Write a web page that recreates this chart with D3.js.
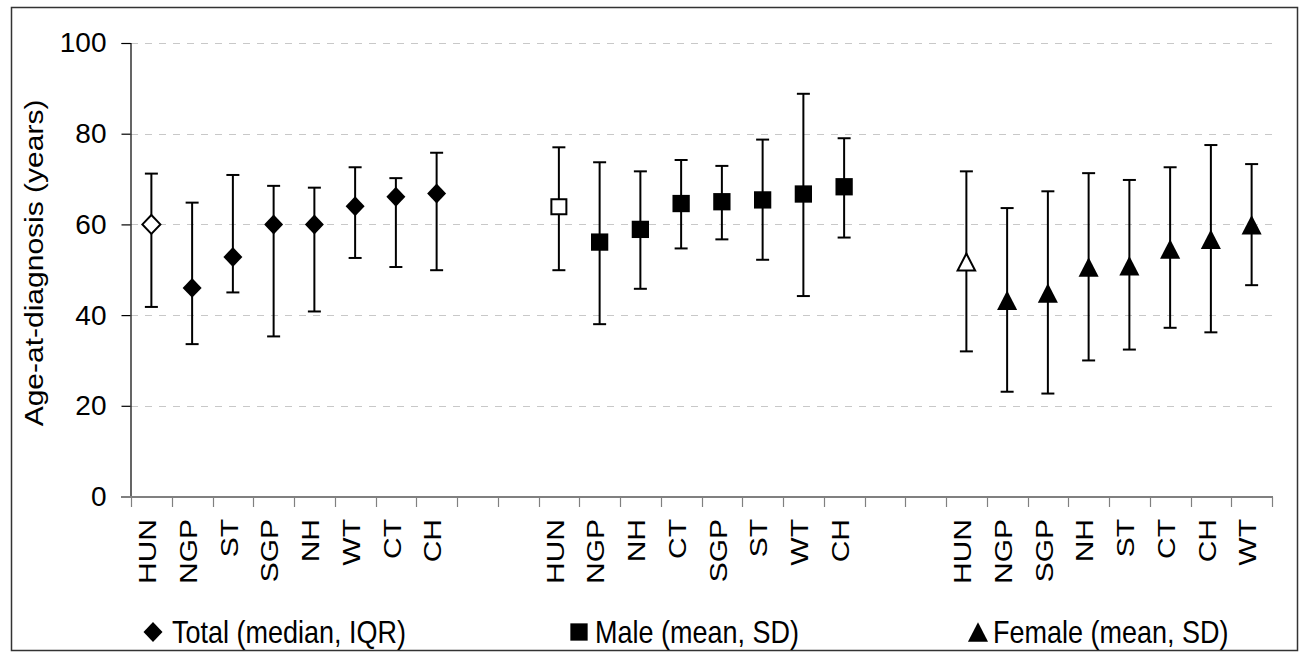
<!DOCTYPE html>
<html><head><meta charset="utf-8">
<script src="https://cdn.jsdelivr.net/npm/d3@7"></script>
<style>body{margin:0;background:#fff} text{font-family:"Liberation Sans",Arial,sans-serif;fill:#000}</style>
</head><body><svg id="c" width="1309" height="660"></svg><script>
// ---- data ----
const yTicks = [0, 20, 40, 60, 80, 100];
const totalCats = ["HUN","NGP","ST","SGP","NH","WT","CT","CH"];
const totalMid  = [60, 46, 52.8, 60, 60, 64, 66.1, 66.8];
const totalLow  = [41.8, 33.6, 45, 35.3, 40.8, 52.6, 50.6, 49.9];
const totalHigh = [71.2, 64.8, 70.9, 68.5, 68.1, 72.6, 70.2, 75.8];
const maleCats  = ["HUN","NGP","NH","CT","SGP","ST","WT","CH"];
const maleMid   = [63.9, 56.1, 58.9, 64.6, 65, 65.4, 66.7, 68.3];
const maleLow   = [49.9, 38, 45.8, 54.7, 56.7, 52.2, 44.2, 57.1];
const maleHigh  = [77, 73.7, 71.7, 74.2, 72.9, 78.7, 88.8, 79];
const femCats   = ["HUN","NGP","SGP","NH","ST","CT","CH","WT"];
const femMid    = [51.7, 43.3, 44.9, 50.6, 50.9, 54.6, 56.7, 59.9];
const femLow    = [32, 23.1, 22.7, 30, 32.4, 37.2, 36.2, 46.6];
const femHigh   = [71.7, 63.6, 67.3, 71.3, 69.8, 72.6, 77.5, 73.3];
const legendLabels = ["Total (median, IQR)", "Male (mean, SD)", "Female (mean, SD)"];
const yTitle = "Age-at-diagnosis (years)";

// ---- build slots ----
const groups = [
  {key:"T", cats: totalCats, mid: totalMid, low: totalLow, high: totalHigh, shape:"diamond"},
  {key:"M", cats: maleCats, mid: maleMid, low: maleLow, high: maleHigh, shape:"square"},
  {key:"F", cats: femCats, mid: femMid, low: femLow, high: femHigh, shape:"triangle"}
];
const slots = [], labelOf = {}, points = [];
groups.forEach((g, gi) => {
  g.cats.forEach((c, i) => {
    const k = g.key + "-" + c; slots.push(k); labelOf[k] = c;
    points.push({slot:k, mid:g.mid[i], low:g.low[i], high:g.high[i], shape:g.shape, open: i === 0});
  });
  if (gi < groups.length - 1) { ["a","b"].forEach(s => { const k = "gap" + gi + s; slots.push(k); labelOf[k] = ""; }); }
});

const svg = d3.select("#c");
const x = d3.scaleBand().domain(slots).range([131, 1272]).padding(0);
const y = d3.scaleLinear().domain([0, 100]).range([496.5, 43]);

// symbol types
const diamond = {draw(ctx, size){ const s = Math.sqrt(size); ctx.moveTo(0,-s/2*1.05); ctx.lineTo(s/2,0); ctx.lineTo(0,s/2*1.05); ctx.lineTo(-s/2,0); ctx.closePath(); }};
const square = {draw(ctx, size){ const s = Math.sqrt(size); ctx.rect(-s/2,-s/2,s,s); }};
const triangle = {draw(ctx, size){ const s = Math.sqrt(size); ctx.moveTo(0,-s/2); ctx.lineTo(s/2*1.03,s/2); ctx.lineTo(-s/2*1.03,s/2); ctx.closePath(); }};
const shapes = {diamond, square, triangle};
const sizes = {diamond:[19*19, 18*18], square:[17.3*17.3, 15*15], triangle:[19.5*19.5, 17*17]};

// border
svg.append("rect").attr("x", 11.5).attr("y", 7.5).attr("width", 1286).attr("height", 643)
  .attr("fill", "none").attr("stroke", "#333").attr("stroke-width", 1.5);

// gridlines
svg.append("g").selectAll("line").data(yTicks.filter(d => d > 0)).join("line")
  .attr("x1", 131).attr("x2", 1272).attr("y1", d => Math.round(y(d)) + 0.5).attr("y2", d => Math.round(y(d)) + 0.5)
  .attr("stroke", "#c8c8c8").attr("stroke-width", 1.2).attr("stroke-dasharray", "7,7");

// y axis
const yAxis = svg.append("g").attr("transform", "translate(130.5,0)")
  .call(d3.axisLeft(y).tickValues(yTicks).tickSize(9).tickPadding(15));
yAxis.select(".domain").attr("stroke", "#000").attr("stroke-width", 1.2);
yAxis.selectAll(".tick line").attr("stroke", "#000").attr("stroke-width", 1.2);
yAxis.selectAll(".tick text").attr("font-size", 28).attr("font-family", "Liberation Sans, Arial, sans-serif").attr("fill", "#000");

// x axis
const xAxis = svg.append("g").attr("transform", "translate(0,497)")
  .call(d3.axisBottom(x).tickSize(0).tickFormat(""));
xAxis.select(".domain").remove();
svg.append("line").attr("x1", 121).attr("x2", 1273).attr("y1", 497).attr("y2", 497).attr("stroke", "#808080").attr("stroke-width", 2);
const bounds = slots.map(s => x(s)).concat([x.range()[1]]);
svg.append("g").selectAll("line").data(bounds).join("line")
  .attr("x1", d => Math.round(d) + 0.5).attr("x2", d => Math.round(d) + 0.5).attr("y1", 497).attr("y2", 507)
  .attr("stroke", "#808080").attr("stroke-width", 1.2);

// category labels
svg.append("g").selectAll("text").data(slots.filter(s => labelOf[s])).join("text")
  .attr("transform", s => `translate(${x(s) + x.bandwidth()/2 - 4},519) rotate(-90) scale(1.25,1)`)
  .attr("text-anchor", "end").attr("dy", "0.36em").attr("font-size", 24).text(s => labelOf[s]);

// y title
svg.append("text").attr("transform", "translate(43,263) rotate(-90) scale(1.2,1)")
  .attr("text-anchor", "middle").attr("font-size", 25).text(yTitle);

// error bars
const eb = svg.append("g").selectAll("g").data(points).join("g")
  .attr("transform", d => `translate(${x(d.slot) + x.bandwidth()/2},0)`);
eb.append("line").attr("y1", d => y(d.low)).attr("y2", d => y(d.high)).attr("stroke", "#000").attr("stroke-width", 2);
eb.append("line").attr("x1", -6.5).attr("x2", 6.5).attr("y1", d => y(d.low)).attr("y2", d => y(d.low)).attr("stroke", "#000").attr("stroke-width", 2);
eb.append("line").attr("x1", -6.5).attr("x2", 6.5).attr("y1", d => y(d.high)).attr("y2", d => y(d.high)).attr("stroke", "#000").attr("stroke-width", 2);

// markers
svg.append("g").selectAll("path").data(points).join("path")
  .attr("transform", d => `translate(${x(d.slot) + x.bandwidth()/2},${y(d.mid)})`)
  .attr("d", d => d3.symbol(shapes[d.shape], sizes[d.shape][d.open ? 1 : 0])())
  .attr("fill", d => d.open ? "#fff" : "#000")
  .attr("stroke", "#000").attr("stroke-width", d => d.open ? 2 : 0);

// legend
const legX = [153, 579, 978];
const legShapes = ["diamond", "square", "triangle"];
const lg = svg.append("g").selectAll("g").data(legendLabels).join("g")
  .attr("transform", (d, i) => `translate(${legX[i]},632)`);
lg.append("path").attr("d", (d, i) => d3.symbol(shapes[legShapes[i]], sizes[legShapes[i]][0])()).attr("fill", "#000");
lg.append("text").attr("transform", (d, i) => `translate(${[19, 16, 15][i]},0) scale(1,1.15)`).attr("dy", "0.36em")
  .attr("font-size", 27).text(d => d);
</script></body></html>
